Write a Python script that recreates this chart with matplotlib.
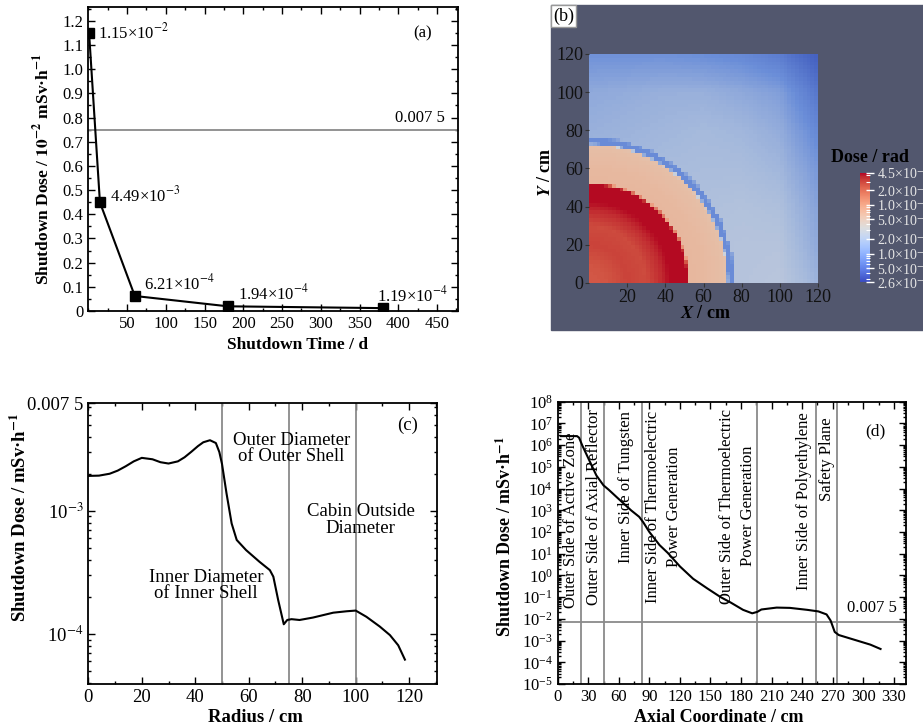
import numpy as np
import matplotlib.pyplot as plt
from matplotlib.colors import LogNorm, LinearSegmentedColormap
from matplotlib.patches import Rectangle
from matplotlib.ticker import MultipleLocator, LogLocator, FixedLocator, FixedFormatter, NullFormatter
import matplotlib.cm as cm

plt.rcParams['font.family'] = ['Liberation Serif', 'DejaVu Serif']
plt.rcParams['mathtext.fontset'] = 'stix'

# ---- (a) shutdown dose vs shutdown time
shut_time = [1, 15, 60, 180, 380]                  # d
shut_dose = [1.15, 0.449, 0.0621, 0.0194, 0.0119]  # 10^-2 mSv/h
shut_text = ['1.15×10$^{-2}$', '4.49×10$^{-3}$', '6.21×10$^{-4}$',
             '1.94×10$^{-4}$', '1.19×10$^{-4}$']
dose_limit = 0.0075  # mSv/h

# ---- (b) dose map, rad
ring_r = [0, 10, 20, 30, 38, 44, 50, 51.5, 53, 60, 70, 72.3, 73.3, 75.6, 77]
ring_dose = [2.0e-3, 2.1e-3, 2.5e-3, 2.3e-3, 3.2e-3, 5e-3, 5e-3, 5e-3,
             6.6e-4, 6.4e-4, 5.8e-4, 5.5e-4, 1.0e-4, 1.0e-4, 1.8e-4]
far_nodes = [0, 20, 40, 60, 80, 100, 120]
far_dose = [  # rows: y = 0..120, cols: x = 0..120
    [2.3e-4, 2.3e-4, 2.3e-4, 2.4e-4, 2.5e-4, 2.64e-4, 1.84e-4],
    [2.3e-4, 2.3e-4, 2.3e-4, 2.4e-4, 2.5e-4, 2.5e-4, 1.58e-4],
    [2.2e-4, 2.2e-4, 2.2e-4, 2.3e-4, 2.38e-4, 2.26e-4, 1.43e-4],
    [2.0e-4, 2.0e-4, 2.1e-4, 2.15e-4, 2.15e-4, 1.94e-4, 1.22e-4],
    [1.75e-4, 1.84e-4, 1.94e-4, 2.04e-4, 1.94e-4, 1.66e-4, 9.4e-5],
    [1.58e-4, 1.66e-4, 1.75e-4, 1.75e-4, 1.58e-4, 1.35e-4, 6.6e-5],
    [1.1e-4, 1.1e-4, 1.1e-4, 1.04e-4, 9.4e-5, 7.3e-5, 3.9e-5],
]
cbar_ticks = [2.6e-5, 5e-5, 1e-4, 2e-4, 5e-4, 1e-3, 2e-3, 4.5e-3]
cbar_labels = ['2.6×10$^{-5}$', '5.0×10$^{-5}$', '1.0×10$^{-4}$', '2.0×10$^{-4}$',
               '5.0×10$^{-4}$', '1.0×10$^{-3}$', '2.0×10$^{-3}$', '4.5×10$^{-3}$']

# ---- (c) radial profile, mSv/h
radius = [0, 4, 8, 11, 14, 17, 20, 24, 27, 30, 33.5, 36, 38.5, 41, 43, 45.5, 47.7,
          49, 50, 51.7, 53.6, 55.5, 59, 64, 67.9, 69.2, 71, 73.1, 74.4, 76, 79, 84,
          91.6, 96.6, 100, 104, 109, 112.8, 115.9, 118.4]
radial_dose = [1.92e-3, 1.93e-3, 2.0e-3, 2.12e-3, 2.3e-3, 2.52e-3, 2.69e-3, 2.62e-3,
               2.48e-3, 2.42e-3, 2.52e-3, 2.72e-3, 3.01e-3, 3.35e-3, 3.6e-3, 3.74e-3,
               3.55e-3, 3.0e-3, 2.4e-3, 1.38e-3, 7.9e-4, 5.8e-4, 4.8e-4, 3.86e-4,
               3.3e-4, 2.92e-4, 1.89e-4, 1.2e-4, 1.3e-4, 1.32e-4, 1.3e-4, 1.36e-4,
               1.49e-4, 1.53e-4, 1.55e-4, 1.38e-4, 1.15e-4, 9.8e-5, 8.1e-5, 6.2e-5]
shells = [50, 75, 100]

# ---- (d) axial profile, mSv/h
axial = [3, 19, 21, 24, 27, 33, 38, 45, 50, 58, 65, 72, 80, 84, 90, 100, 108, 120,
         133, 147, 160, 170, 182, 191, 196, 200, 215, 228, 245, 256, 264, 268, 272,
         276, 291, 307, 317]
axial_dose = [2.6e6, 2.6e6, 2.2e6, 1.0e6, 5.0e5, 1.26e5, 4.0e4, 1.4e4, 8.9e3, 4.0e3,
              2.0e3, 1.0e3, 500, 280, 100, 25, 11, 2.6, 0.7, 0.25, 0.1, 0.056, 0.026,
              0.018, 0.021, 0.027, 0.033, 0.032, 0.026, 0.022, 0.016, 0.0083, 0.0025,
              0.0018, 0.0011, 6.5e-4, 4.1e-4]
layers = [22.5, 45.5, 82.5, 195.5, 254, 274]
layer_names = ['Outer Side of Active Zone', 'Outer Side of Axial Reflector',
               'Inner Side of Tungsten', 'Inner Side of Thermoelectric\nPower Generation',
               'Outer Side of Thermoelectric\nPower Generation',
               'Inner Side of Polyethylene', 'Safety Plane']

W, H = 923, 728
fig = plt.figure(figsize=(W / 100, H / 100), dpi=100)


def box(l, t, r, b):
    return fig.add_axes([l / W, 1 - b / H, (r - l) / W, (b - t) / H])


def frame(ax, size):
    ax.tick_params(which='both', direction='in', top=True, right=True, labelsize=size, width=1)
    ax.tick_params(which='major', length=5)
    ax.tick_params(which='minor', length=2.5)
    for s in ax.spines.values():
        s.set_linewidth(1.3)


def ftext(x, y, s, **kw):
    fig.text(x / W, 1 - y / H, s, ha='center', va='center', **kw)


GRAY = '#8a8a8a'

# ================= (a)
ax = box(88.3, 7, 458, 311)
ax.axhline(dose_limit * 100, color=GRAY, lw=1.3)
ax.plot(shut_time, shut_dose, 'k-s', lw=1.5, ms=6.5)
ax.set_xlim(0, 477)
ax.set_ylim(0, 1.257)
ax.set_xticks(range(50, 451, 50))
ax.xaxis.set_minor_locator(MultipleLocator(25))
yt = np.arange(0, 1.21, 0.1)
ax.set_yticks(yt)
ax.set_yticklabels(['0'] + ['%.1f' % v for v in yt[1:]])
ax.yaxis.set_minor_locator(MultipleLocator(0.05))
frame(ax, 12)
for (x, y, s), off in zip(zip(shut_time, shut_dose, shut_text),
                          [(9, 0), (10, 7), (9, 13), (10, 13), (-6, 13)]):
    ax.annotate(s, (x, y), xytext=off, textcoords='offset pixels',
                ha='left', va='center', fontsize=12)
ax.text(460, 0.765, '0.007 5', ha='right', va='bottom', fontsize=12)
ax.text(431, 1.149, '(a)', ha='center', va='center', fontsize=12)
ftext(298, 345, 'Shutdown Time / d', fontsize=12.5, fontweight='bold')
ftext(42, 169, 'Shutdown Dose / $\\mathbf{10^{-2}}$ mSv·h$^{\\mathbf{-1}}$',
      fontsize=12.5, fontweight='bold', rotation=90)

# ================= (b)
BG = '#52576e'
fig.add_artist(Rectangle((551 / W, 1 - 330 / H), 372 / W, 325 / H,
                         transform=fig.transFigure, color=BG, zorder=-5))
axb = box(589, 54, 818, 283)
axb.set_facecolor(BG)
edges = np.arange(0, 121, 2)
cent = edges[:-1] + 1
X, Y = np.meshgrid(cent, cent)
R = np.hypot(X, Y)
near = 10 ** np.interp(R, ring_r, np.log10(ring_dose))
lf = np.log10(np.array(far_dose))
rows = np.array([np.interp(cent, far_nodes, row) for row in lf])
far = 10 ** np.array([np.interp(cent, far_nodes, rows[:, i]) for i in range(len(cent))]).T
field = np.where(R <= 76.5, near, far)
map_cmap = LinearSegmentedColormap.from_list('pv', [
    (0.0, '#3a4fb8'), (0.12, '#4a68c4'), (0.27, '#6b8ed8'), (0.4, '#a6badc'),
    (0.5, '#cdd2dc'), (0.6, '#e6bea6'), (0.72, '#eca184'), (0.86, '#cf5040'),
    (1.0, '#b40a22')])
norm = LogNorm(vmin=2.6e-5, vmax=4.5e-3)
axb.pcolormesh(edges, edges, field, cmap=map_cmap, norm=norm, shading='flat')
axb.set_xlim(0, 120)
axb.set_ylim(0, 120)
axb.set_xticks([20, 40, 60, 80, 100, 120])
axb.set_yticks([0, 20, 40, 60, 80, 100, 120])
axb.tick_params(direction='out', length=3, color='#333333', labelcolor='#111111',
                labelsize=13, pad=1)
for s in axb.spines.values():
    s.set_visible(False)
ftext(706, 314, '$\\mathbfit{X}$ / cm', fontsize=13, fontweight='bold')
ftext(545, 172, '$\\mathbfit{Y}$ / cm', fontsize=13, fontweight='bold', rotation=90)
fig.text(553 / W, 1 - 16 / H, '(b)', ha='left', va='center', fontsize=13,
         bbox=dict(facecolor='white', edgecolor='#999999', pad=1.5))
ftext(870, 157, 'Dose / rad', fontsize=13, fontweight='bold')
cax = box(860, 173, 870, 282)
cb = fig.colorbar(cm.ScalarMappable(norm=norm, cmap='coolwarm'), cax=cax)
cb.outline.set_visible(False)
cax.yaxis.set_major_locator(FixedLocator(cbar_ticks))
cax.yaxis.set_major_formatter(FixedFormatter(cbar_labels))
cax.yaxis.set_minor_locator(LogLocator(base=10, subs=np.arange(2, 10), numticks=20))
cax.yaxis.set_minor_formatter(NullFormatter())
cax.tick_params(which='major', direction='inout', length=6, width=1, color='white',
                labelcolor='#e6e6e6', labelsize=10, pad=2)
cax.tick_params(which='minor', direction='in', length=3, width=0.8, color='white')

# ================= (c)
axc = box(88.3, 403, 437, 684)
for s in shells:
    axc.axvline(s, color=GRAY, lw=1.3)
axc.plot(radius, radial_dose, color='black', lw=1.5)
axc.set_yscale('log')
axc.set_xlim(0, 130.4)
axc.set_ylim(3.93e-5, 7.5e-3)
axc.set_xticks(range(0, 121, 20))
axc.xaxis.set_minor_locator(MultipleLocator(10))
axc.yaxis.set_major_locator(FixedLocator([1e-4, 1e-3, 7.5e-3]))
axc.yaxis.set_major_formatter(FixedFormatter(['10$^{-4}$', '10$^{-3}$', '0.007 5']))
axc.yaxis.set_minor_locator(LogLocator(base=10, subs=np.arange(2, 10), numticks=20))
axc.yaxis.set_minor_formatter(NullFormatter())
frame(axc, 13.5)
axc.text(76, 3.19e-3, 'Outer Diameter\nof Outer Shell', ha='center', va='center',
         fontsize=13.5, linespacing=0.95)
axc.text(101.9, 8.4e-4, 'Cabin Outside\nDiameter', ha='center', va='center',
         fontsize=13.5, linespacing=0.95)
axc.text(44, 2.47e-4, 'Inner Diameter\nof Inner Shell', ha='center', va='center',
         fontsize=13.5, linespacing=0.95)
axc.text(119.3, 4.96e-3, '(c)', ha='center', va='center', fontsize=13.5)
ftext(255, 717, 'Radius / cm', fontsize=13.5, fontweight='bold')
ftext(20, 517, 'Shutdown Dose / mSv·h$^{\\mathbf{-1}}$', fontsize=13.5,
      fontweight='bold', rotation=90)

# ================= (d)
axd = box(557.7, 401.7, 906, 684)
for s in layers:
    axd.axvline(s, color=GRAY, lw=1.3)
axd.axhline(dose_limit, color=GRAY, lw=1.3)
axd.plot(axial, axial_dose, color='black', lw=1.5)
axd.set_yscale('log')
axd.set_xlim(0, 342)
axd.set_ylim(1e-5, 1e8)
axd.set_xticks(range(0, 331, 30))
axd.xaxis.set_minor_locator(MultipleLocator(15))
axd.set_yticks(10.0 ** np.arange(-5, 9))
axd.yaxis.set_minor_locator(LogLocator(base=10, subs=np.arange(2, 10), numticks=40))
axd.yaxis.set_minor_formatter(NullFormatter())
frame(axd, 12)
for name, (x, ly) in zip(layer_names, [(13.1, 2.55), (35.7, 3.16), (66.9, 4.06),
                                       (103.9, 3.16), (176.9, 3.19), (241.8, 3.41),
                                       (264.7, 5.37)]):
    axd.text(x, 10 ** ly, name, rotation=90, ha='center', va='center',
             fontsize=12, linespacing=1.4)
axd.text(333, 10 ** -1.87, '0.007 5', ha='right', va='bottom', fontsize=12)
axd.text(312, 10 ** 6.62, '(d)', ha='center', va='center', fontsize=12.5)
ftext(719, 718, 'Axial Coordinate / cm', fontsize=13, fontweight='bold')
ftext(505, 537, 'Shutdown Dose / mSv·h$^{\\mathbf{-1}}$', fontsize=13,
      fontweight='bold', rotation=90)

fig.savefig('out.png', dpi=100)
